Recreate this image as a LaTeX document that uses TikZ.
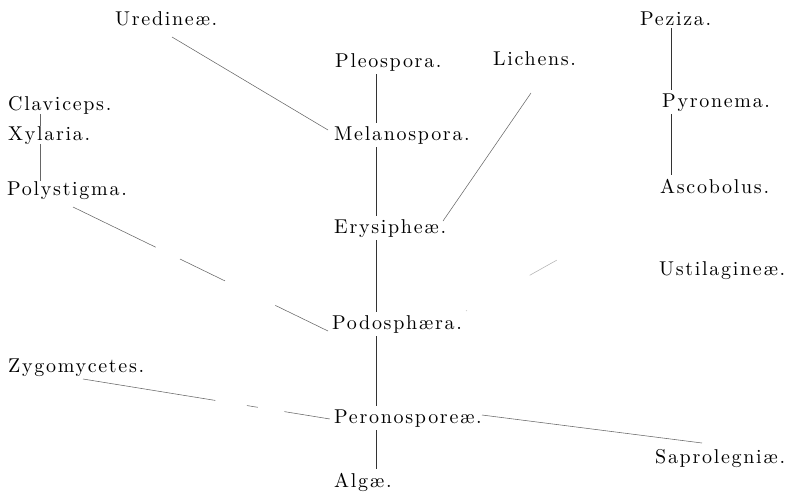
\documentclass[tikz,border=0pt]{standalone}
\usepackage{fontspec}
\setmainfont{lmroman10-regular.otf}[LetterSpace=8.5]
\usetikzlibrary{calc}

\begin{document}
\begin{tikzpicture}[
    x=1pt, y=-1pt,
    taxon/.style={anchor=base west, inner sep=0pt, text=black, font=\fontsize{20}{22}\selectfont},
    line/.style={draw, black!60, line width=0.55pt},
    trunk/.style={line, black!80, shorten <=3pt, shorten >=3pt}
]
\useasboundingbox (0,0) rectangle (787,493);

\node [taxon] (uredineae) at (115,25) {Uredineæ.};
\node [taxon] (pleospora) at (335,67) {Pleospora.};
\node [taxon] (peziza) at (640,25) {Peziza.};
\node [taxon] (lichens) at (493,65) {Lichens.};
\node [taxon] (claviceps) at (8,110) {Claviceps.};
\node [taxon] (xylaria) at (8,140) {Xylaria.};
\node [taxon] (polystigma) at (7,195) {Polystigma.};
\node [taxon] (melanospora) at (334,140) {Melanospora.};
\node [taxon] (pyronema) at (662,107) {Pyronema.};
\node [taxon] (ascobolus) at (660,193) {Ascobolus.};
\node [taxon] (erysipheae) at (334,233) {Erysipheæ.};
\node [taxon] (ustilagineae) at (659,275) {Ustilagineæ.};
\node [taxon] (podosphaera) at (332,329) {Podosphæra.};
\node [taxon] (zygomycetes) at (8,372) {Zygomycetes.};
\node [taxon] (peronosporeae) at (334,423) {Peronosporeæ.};
\node [taxon] (saprolegniae) at (655,463) {Saprolegniæ.};
\node [taxon] (algae) at (334,487) {Algæ.};

\coordinate (stem) at (376,0);
\coordinate (clavcol) at (40.5,0);
\coordinate (pezcol) at (671,0);
\coordinate (fadeend) at (557,260);

\path [trunk] (pleospora.south -| stem) -- (melanospora.north -| stem);
\path [trunk] (melanospora.south -| stem) -- (erysipheae.north -| stem);
\path [trunk] (erysipheae.south -| stem) -- (podosphaera.north -| stem);
\path [trunk] (podosphaera.south -| stem) -- (peronosporeae.north -| stem);
\path [trunk] (peronosporeae.south -| stem) -- (algae.north -| stem);

\path [line] (claviceps.south -| clavcol) -- (xylaria.north -| clavcol);
\path [line] (xylaria.south -| clavcol) -- (polystigma.north -| clavcol);
\path [trunk] (peziza.south -| pezcol) -- (pyronema.north -| pezcol);
\path [trunk] (pyronema.south -| pezcol) -- (ascobolus.north -| pezcol);

\path [line] ($(uredineae.base west)+(57,12)$) -- ($(melanospora.base west)+(-6,-10)$);
\path [line] ($(lichens.base west)+(38,28)$) -- ($(erysipheae.base west)+(109,-12)$);
\path [line, dash pattern=on 92pt off 27pt on 50pt off 56pt on 60pt]
    ($(polystigma.base west)+(66,12)$) -- ($(podosphaera.base west)+(-4,2)$);
\path [line, dash pattern=on 134pt off 32pt on 11pt off 27pt on 46pt]
    ($(zygomycetes.base west)+(75,7)$) -- ($(peronosporeae.base west)+(-4,-4)$);
\path [line] ($(peronosporeae.base west)+(148,-8)$) -- ($(saprolegniae.base west)+(47,-20)$);
\path [line, black!30, dash pattern=on 1pt off 72pt on 31pt]
    ($(podosphaera.base west)+(134,-18)$) -- (fadeend);

\end{tikzpicture}
\end{document}
